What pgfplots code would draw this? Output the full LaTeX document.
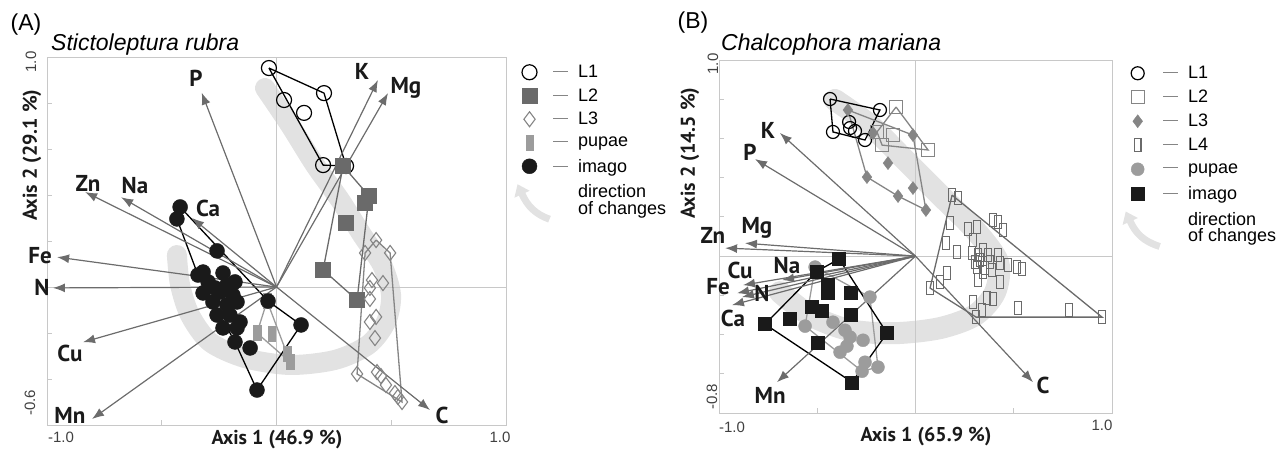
\documentclass[border=0pt]{standalone}
\usepackage{pgfplots}
\pgfplotsset{compat=1.18}
\usepackage{fontspec}
\setmainfont{Liberation Sans}
\newfontfamily\vecfont{PT Sans}
\usetikzlibrary{arrows.meta}

\definecolor{bandgray}{HTML}{E2E2E2}
\definecolor{arrowgray}{HTML}{6C6C6C}
\definecolor{dgray}{HTML}{6A6A6A}
\definecolor{mgray}{HTML}{858585}
\definecolor{lgray}{HTML}{9C9C9C}
\definecolor{framegray}{HTML}{C8C8C8}
\definecolor{ink}{HTML}{1A1A1A}

% narrow upright rectangles (pupae, L4)
\pgfdeclareplotmark{vrect}{%
  \pgfpathrectangle{\pgfpoint{-0.5\pgfplotmarksize}{-\pgfplotmarksize}}{\pgfpoint{\pgfplotmarksize}{2\pgfplotmarksize}}%
  \pgfusepathqfillstroke}
\pgfdeclareplotmark{vrecto}{%
  \pgfpathrectangle{\pgfpoint{-0.5\pgfplotmarksize}{-\pgfplotmarksize}}{\pgfpoint{\pgfplotmarksize}{2\pgfplotmarksize}}%
  \pgfusepathqstroke}

\newcommand{\lgd}[1]{\textcolor{mgray}{\rule[0.3em]{15pt}{0.9pt}}\hspace{10pt}#1}

\tikzset{
  vlabel/.style={font=\vecfont\bfseries\fontsize{23}{23}\selectfont, text=ink},
  axtitle/.style={font=\vecfont\bfseries\fontsize{20}{20}\selectfont, text=ink},
  endlabel/.style={font=\fontsize{15}{15}\selectfont, text=black!75},
  ptitle/.style={font=\itshape\fontsize{23}{23}\selectfont, anchor=west, inner sep=0pt},
}

\pgfplotsset{
  biplot/.style={
    scale only axis, clip=false,
    xmin=-1, xmax=1,
    axis line style={framegray, line width=0.8pt},
    tick style={framegray, line width=0.8pt},
    tick align=inside, major tick length=5pt, tick pos=left,
    xtick={-1,-0.5,0,0.5,1},
    xticklabel=\empty, yticklabel=\empty,
    legend cell align=left,
    legend style={draw=none, fill=none, anchor=north west, inner sep=0pt, row sep=0pt,
      font=\fontsize{18}{20}\selectfont,
      nodes={inner sep=0pt, minimum height=23.5pt}},
    legend image code/.code={\path (0pt,-6pt) (16pt,6pt); \draw[##1] plot coordinates {(8pt,0pt)};},
  },
  hull/.style={line width=1.3pt, forget plot},
  vec/.style={arrowgray, line width=1.2pt, forget plot, -{Latex[length=12pt,width=9pt]}},
  zero/.style={framegray, line width=0.6pt, forget plot},
}

\begin{document}
\begin{tikzpicture}
\useasboundingbox (0,0) rectangle (1287pt,452pt);

% ---------------- (A) Stictoleptura rubra ----------------
\begin{axis}[biplot, at={(47pt,27pt)}, anchor=south west,
  width=459pt, height=368pt, ymin=-0.6, ymax=1,
  ytick={-0.6,-0.4,-0.2,0,0.2,0.4,0.6,0.8,1},
  legend style={at={(1.017,0.991)}}]
% direction of changes
\addplot[bandgray, line width=20pt, line cap=round, smooth, forget plot] coordinates {
  (-0.050,0.865) (0.059,0.704) (0.168,0.530) (0.277,0.378) (0.373,0.226)
  (0.460,0.096) (0.499,-0.035) (0.477,-0.152) (0.399,-0.252) (0.255,-0.317)
  (0.059,-0.339) (-0.137,-0.309) (-0.290,-0.239) (-0.377,-0.122) (-0.420,0.009)
  (-0.434,0.139)};
\addplot[zero] coordinates {(0,-0.6) (0,1)};
\addplot[zero] coordinates {(-1,0) (1,0)};
% group hulls
\addplot[hull, black] coordinates {(-0.033,0.952) (0.207,0.843) (0.303,0.526) (0.203,0.530) (-0.033,0.952)};
\addplot[hull, dgray] coordinates {(0.290,0.526) (0.403,0.396) (0.351,-0.057) (0.203,0.074) (0.290,0.526)};
\addplot[hull, mgray] coordinates {(0.434,0.204) (0.495,0.148) (0.547,-0.500) (0.351,-0.378) (0.386,0.148) (0.434,0.204)};
\addplot[hull, lgray] coordinates {(-0.041,-0.061) (-0.085,-0.200) (0.059,-0.326) (-0.041,-0.061)};
\addplot[hull, black] coordinates {(-0.420,0.348) (-0.037,-0.061) (0.107,-0.165) (-0.085,-0.448) (-0.181,-0.239) (-0.342,0.052) (-0.434,0.296) (-0.420,0.348)};
% samples
\addplot[only marks, mark=o, mark size=7.5pt, mark options={black, line width=1.2pt}] coordinates {
  (-0.033,0.952) (0.207,0.843) (0.033,0.813) (0.120,0.757) (0.203,0.530) (0.303,0.526)};
\addlegendentry{\lgd{L1}}
\addplot[only marks, mark=square*, mark size=7.5pt, mark options={dgray, fill=dgray}] coordinates {
  (0.290,0.526) (0.403,0.396) (0.386,0.365) (0.303,0.278) (0.203,0.074) (0.351,-0.057)};
\addlegendentry{\lgd{L2}}
\addplot[only marks, mark=diamond, mark size=7.5pt, mark options={mgray, line width=1.1pt}] coordinates {
  (0.434,0.204) (0.386,0.148) (0.495,0.148) (0.416,0.030) (0.464,0.017) (0.407,-0.004)
  (0.407,-0.052) (0.434,-0.130) (0.407,-0.152) (0.429,-0.222) (0.351,-0.378) (0.438,-0.370)
  (0.455,-0.387) (0.477,-0.426) (0.516,-0.461) (0.547,-0.500) (0.529,-0.478)};
\addlegendentry{\lgd{L3}}
\addplot[only marks, mark=vrect, mark size=7.5pt, mark options={lgray, fill=lgray}] coordinates {
  (-0.041,-0.061) (-0.085,-0.200) (-0.020,-0.204) (0.046,-0.291) (0.059,-0.326)};
\addlegendentry{\lgd{pupae}}
\addplot[only marks, mark=*, mark size=7.5pt, mark options={ink, fill=ink}] coordinates {
  (-0.420,0.348) (-0.434,0.296) (-0.259,0.157) (-0.320,0.065) (-0.342,0.052) (-0.298,0.022)
  (-0.233,0.061) (-0.216,0.009) (-0.181,0.022) (-0.320,-0.026) (-0.268,-0.004) (-0.246,-0.022)
  (-0.190,-0.035) (-0.277,-0.065) (-0.216,-0.078) (-0.172,-0.065) (-0.259,-0.122) (-0.203,-0.122)
  (-0.159,-0.152) (-0.233,-0.178) (-0.172,-0.178) (-0.181,-0.239) (-0.115,-0.265) (-0.085,-0.448)
  (-0.037,-0.061) (0.107,-0.165)};
\addlegendentry{\lgd{imago}}
\addlegendimage{legend image code/.code={\path (0pt,-22pt) (16pt,22pt);
  \draw[bandgray, line width=7pt, -{Triangle[length=11pt,width=16pt]}] (28pt,-19pt) .. controls (14pt,-14pt) and (6pt,-6pt) .. (-4pt,16pt);}}
\addlegendentry{\hspace*{25pt}\shortstack[l]{direction\\of changes}}
% loading vectors
\addplot[vec] coordinates {(0,0) (-0.326,0.845)};
\addplot[vec] coordinates {(0,0) (0.442,0.900)};
\addplot[vec] coordinates {(0,0) (0.486,0.843)};
\addplot[vec] coordinates {(0,0) (-0.834,0.413)};
\addplot[vec] coordinates {(0,0) (-0.677,0.390)};
\addplot[vec] coordinates {(0,0) (-0.368,0.300)};
\addplot[vec] coordinates {(0,0) (-0.956,0.130)};
\addplot[vec] coordinates {(0,0) (-0.974,-0.004)};
\addplot[vec] coordinates {(0,0) (-0.843,-0.240)};
\addplot[vec] coordinates {(0,0) (-0.804,-0.574)};
\addplot[vec] coordinates {(0,0) (0.669,-0.535)};
\node[vlabel] at (axis cs:-0.351,0.909) {P};
\node[vlabel] at (axis cs:0.373,0.935) {K};
\node[vlabel] at (axis cs:0.564,0.865) {Mg};
\node[vlabel] at (axis cs:-0.821,0.452) {Zn};
\node[vlabel] at (axis cs:-0.617,0.443) {Na};
\node[vlabel] at (axis cs:-0.298,0.343) {Ca};
\node[vlabel] at (axis cs:-1.030,0.135) {Fe};
\node[vlabel] at (axis cs:-1.022,-0.004) {N};
\node[vlabel] at (axis cs:-0.900,-0.287) {Cu};
\node[vlabel] at (axis cs:-0.900,-0.557) {Mn};
\node[vlabel] at (axis cs:0.721,-0.557) {C};
\end{axis}

% ---------------- (B) Chalcophora mariana ----------------
\begin{axis}[biplot, at={(719pt,39pt)}, anchor=south west,
  width=393pt, height=353pt, ymin=-0.8, ymax=1,
  ytick={-0.8,-0.6,-0.4,-0.2,0,0.2,0.4,0.6,0.8,1},
  legend style={at={(1.0254,0.997)}, nodes={minimum height=24pt}}]
\addplot[bandgray, line width=22pt, line cap=round, smooth, forget plot] coordinates {
  (-0.410,0.796) (-0.232,0.668) (-0.053,0.490) (0.125,0.311) (0.303,0.133)
  (0.420,-0.031) (0.405,-0.184) (0.303,-0.301) (0.125,-0.367) (-0.104,-0.393)
  (-0.333,-0.378) (-0.537,-0.301) (-0.690,-0.184)};
\addplot[zero] coordinates {(0,-0.8) (0,1)};
\addplot[zero] coordinates {(-1,0) (1,0)};
% group hulls
\addplot[hull, black] coordinates {(-0.435,0.801) (-0.181,0.745) (-0.257,0.592) (-0.420,0.633) (-0.435,0.801)};
\addplot[hull, mgray] coordinates {(-0.099,0.760) (0.064,0.541) (-0.170,0.566) (-0.196,0.633) (-0.099,0.760)};
\addplot[hull, mgray] coordinates {(-0.344,0.745) (-0.013,0.617) (0.053,0.235) (-0.089,0.306) (-0.247,0.403) (-0.344,0.745)};
\addplot[hull, dgray] coordinates {(0.186,0.311) (0.949,-0.311) (0.308,-0.311) (0.074,-0.163) (0.186,0.311)};
\addplot[hull, lgray] coordinates {(-0.511,-0.056) (-0.232,-0.209) (-0.191,-0.566) (-0.272,-0.587) (-0.562,-0.357) (-0.511,-0.056)};
\addplot[hull, black] coordinates {(-0.389,-0.015) (-0.145,-0.393) (-0.323,-0.643) (-0.766,-0.347) (-0.501,-0.077) (-0.389,-0.015)};
% samples
\addplot[only marks, mark=o, mark size=6.5pt, mark options={black, line width=1.2pt}] coordinates {
  (-0.435,0.801) (-0.181,0.745) (-0.420,0.633) (-0.338,0.684) (-0.333,0.653) (-0.308,0.638) (-0.257,0.592)};
\addlegendentry{\lgd{L1}}
\addplot[only marks, mark=square, mark size=6.5pt, mark options={mgray, line width=1.2pt}] coordinates {
  (-0.099,0.760) (-0.196,0.633) (-0.170,0.566) (-0.115,0.617) (0.064,0.541)};
\addlegendentry{\lgd{L2}}
\addplot[only marks, mark=diamond*, mark size=6.5pt, mark options={mgray, fill=mgray}] coordinates {
  (-0.344,0.745) (-0.216,0.628) (-0.013,0.617) (-0.140,0.474) (-0.247,0.403) (-0.089,0.306)
  (-0.013,0.347) (0.053,0.235)};
\addlegendentry{\lgd{L3}}
\addplot[only marks, mark=vrecto, mark size=6.5pt, mark options={dgray, line width=1.1pt}] coordinates {
  (0.186,0.311) (0.216,0.296) (0.394,0.184) (0.420,0.173) (0.445,0.133) (0.176,0.168)
  (0.267,0.138) (0.313,0.148) (0.293,0.082) (0.155,0.066) (0.211,0.020) (0.288,0.015)
  (0.318,0.005) (0.328,-0.020) (0.369,0.005) (0.420,0.005) (0.313,-0.056) (0.354,-0.061)
  (0.389,-0.071) (0.430,-0.036) (0.471,-0.046) (0.517,-0.056) (0.542,-0.066) (0.160,-0.087)
  (0.125,-0.133) (0.318,-0.122) (0.430,-0.133) (0.074,-0.163) (0.293,-0.235) (0.364,-0.214)
  (0.394,-0.219) (0.338,-0.276) (0.522,-0.265) (0.781,-0.276) (0.308,-0.311) (0.949,-0.311)
  (0.344,0.031) (0.303,-0.031) (0.379,-0.031) (0.344,-0.082)};
\addlegendentry{\lgd{L4}}
\addplot[only marks, mark=*, mark size=6.5pt, mark options={lgray, fill=lgray}] coordinates {
  (-0.511,-0.056) (-0.232,-0.209) (-0.562,-0.357) (-0.420,-0.337) (-0.333,-0.413) (-0.267,-0.429)
  (-0.384,-0.490) (-0.349,-0.459) (-0.191,-0.566) (-0.257,-0.541) (-0.272,-0.587) (-0.359,-0.378)};
\addlegendentry{\lgd{pupae}}
\addplot[only marks, mark=square*, mark size=6.5pt, mark options={ink, fill=ink}] coordinates {
  (-0.389,-0.015) (-0.501,-0.077) (-0.445,-0.148) (-0.445,-0.189) (-0.328,-0.189) (-0.527,-0.260)
  (-0.476,-0.276) (-0.328,-0.301) (-0.639,-0.321) (-0.766,-0.347) (-0.496,-0.439) (-0.145,-0.393)
  (-0.323,-0.643)};
\addlegendentry{\lgd{imago}}
\addlegendimage{legend image code/.code={\path (0pt,-22pt) (16pt,22pt);
  \draw[bandgray, line width=7pt, -{Triangle[length=11pt,width=16pt]}] (30pt,-19pt) .. controls (14pt,-14pt) and (6pt,-6pt) .. (-4pt,16pt);}}
\addlegendentry{\hspace*{25pt}\shortstack[l]{direction\\of changes}}
% loading vectors
\addplot[vec] coordinates {(0,0) (-0.690,0.628)};
\addplot[vec] coordinates {(0,0) (-0.817,0.495)};
\addplot[vec] coordinates {(0,0) (-0.969,0.041)};
\addplot[vec] coordinates {(0,0) (-0.868,0.066)};
\addplot[vec] coordinates {(0,0) (-0.878,-0.148)};
\addplot[vec] coordinates {(0,0) (-0.679,-0.122)};
\addplot[vec] coordinates {(0,0) (-0.908,-0.189)};
\addplot[vec] coordinates {(0,0) (-0.883,-0.209)};
\addplot[vec] coordinates {(0,0) (-0.934,-0.250)};
\addplot[vec] coordinates {(0,0) (-0.705,-0.643)};
\addplot[vec] coordinates {(0,0) (0.598,-0.643)};
\node[vlabel] at (axis cs:-0.751,0.643) {K};
\node[vlabel] at (axis cs:-0.842,0.531) {P};
\node[vlabel] at (axis cs:-1.031,0.107) {Zn};
\node[vlabel] at (axis cs:-0.807,0.143) {Mg};
\node[vlabel] at (axis cs:-0.893,-0.071) {Cu};
\node[vlabel] at (axis cs:-0.654,-0.046) {Na};
\node[vlabel] at (axis cs:-1.005,-0.158) {Fe};
\node[vlabel] at (axis cs:-0.781,-0.189) {N};
\node[vlabel] at (axis cs:-0.929,-0.316) {Ca};
\node[vlabel] at (axis cs:-0.740,-0.709) {Mn};
\node[vlabel] at (axis cs:0.649,-0.658) {C};
\end{axis}

% panel titles, axis titles and end labels
\node[font=\fontsize{23}{23}\selectfont] at (26pt,427pt) {(A)};
\node[ptitle] at (51pt,407pt) {Stictoleptura rubra};
\node[axtitle] at (277pt,12pt) {Axis 1 (46.9 \%)};
\node[axtitle, rotate=90] at (32pt,297pt) {Axis 2 (29.1 \%)};
\node[endlabel] at (61pt,15pt) {-1.0};
\node[endlabel] at (500pt,15pt) {1.0};
\node[endlabel, rotate=90] at (31pt,390pt) {1.0};
\node[endlabel, rotate=90] at (30pt,49pt) {-0.6};

\node[font=\fontsize{23}{23}\selectfont] at (693pt,429pt) {(B)};
\node[ptitle] at (721pt,407pt) {Chalcophora mariana};
\node[axtitle] at (926pt,15pt) {Axis 1 (65.9 \%)};
\node[axtitle, rotate=90] at (690pt,299pt) {Axis 2 (14.5 \%)};
\node[endlabel] at (732pt,25pt) {-1.0};
\node[endlabel] at (1102pt,27pt) {1.0};
\node[endlabel, rotate=90] at (713pt,388pt) {1.0};
\node[endlabel, rotate=90] at (712pt,55pt) {-0.8};
\end{tikzpicture}
\end{document}
